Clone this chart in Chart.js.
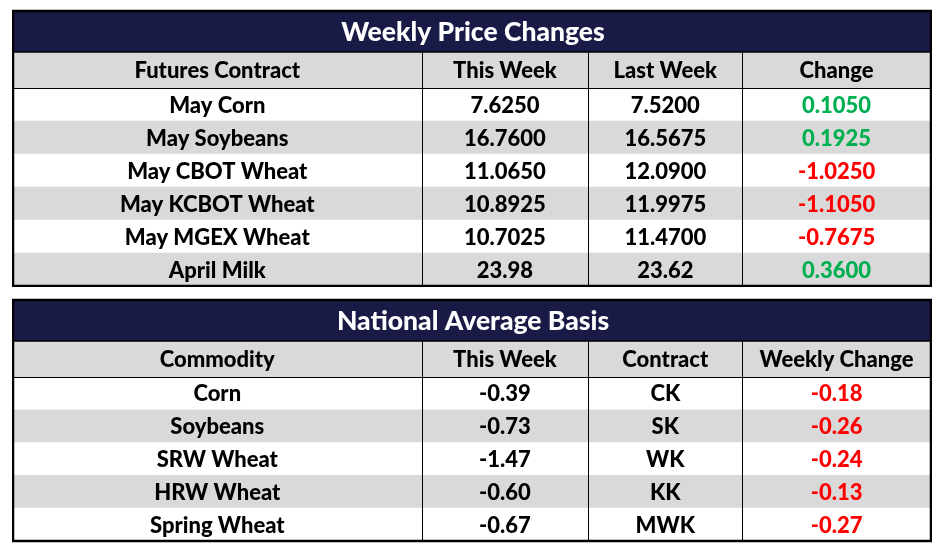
<!DOCTYPE html>
<html>
<head>
<meta charset="utf-8">
<script src="https://cdn.jsdelivr.net/npm/chart.js@4.4.1/dist/chart.umd.min.js"></script>
<style>
  html, body { margin: 0; padding: 0; background: #fff; }
  body { width: 946px; height: 552px; position: relative; overflow: hidden; }
  .box { position: absolute; left: 12px; width: 920px; }
  #top { top: 9px; height: 278px; }
  #bottom { top: 298px; height: 245px; }
</style>
</head>
<body>
<div class="box" id="top"><canvas id="futuresTable"></canvas></div>
<div class="box" id="bottom"><canvas id="basisTable"></canvas></div>
<script>
// weekly price changes
const futuresHeaders = ["Futures Contract", "This Week", "Last Week", "Change"];
const futuresContracts = ["May Corn", "May Soybeans", "May CBOT Wheat", "May KCBOT Wheat", "May MGEX Wheat", "April Milk"];
const futuresThisWeek = ["7.6250", "16.7600", "11.0650", "10.8925", "10.7025", "23.98"];
const futuresLastWeek = ["7.5200", "16.5675", "12.0900", "11.9975", "11.4700", "23.62"];
const futuresChange = ["0.1050", "0.1925", "-1.0250", "-1.1050", "-0.7675", "0.3600"];

// national average basis
const basisHeaders = ["Commodity", "This Week", "Contract", "Weekly Change"];
const basisCommodities = ["Corn", "Soybeans", "SRW Wheat", "HRW Wheat", "Spring Wheat"];
const basisThisWeek = ["-0.39", "-0.73", "-1.47", "-0.60", "-0.67"];
const basisContracts = ["CK", "SK", "WK", "KK", "MWK"];
const basisChange = ["-0.18", "-0.26", "-0.24", "-0.13", "-0.27"];

// layout
const colEdges = [0, 409, 576, 730, 919];
const NAVY = "#191a46";
const GRAY = "#d9d9d9";
const GREEN = "#00b050";
const RED = "#ff0000";
const FONT = "Lato";
const WEIGHT = "900";
const TITLE_H = 41;
const HEAD_H = 36;

function drawText(ctx, text, x, y, size, color) {
    ctx.save();
    ctx.font = WEIGHT + " " + size + "px " + FONT;
    ctx.fillStyle = color;
    ctx.textAlign = "center";
    ctx.textBaseline = "middle";
    ctx.fillText(text, x, y);
    ctx.restore();
}

function changeColor(v) {
    return parseFloat(v) < 0 ? RED : GREEN;
}

const tablePlugin = {
    id: "tablePlugin",
    afterDatasetsDraw(chart) {
        const ctx = chart.ctx;
        const area = chart.chartArea;
        const x = chart.scales.x;
        const y = chart.scales.y;
        const t = chart.options.plugins.tablePlugin;
        const headTop = area.top - HEAD_H;
        const titleTop = headTop - TITLE_H;

        // title + header bands
        ctx.fillStyle = NAVY;
        ctx.fillRect(area.left, titleTop, area.right - area.left, TITLE_H);
        ctx.fillStyle = GRAY;
        ctx.fillRect(area.left, headTop, area.right - area.left, HEAD_H);

        // lines
        ctx.strokeStyle = "#000";
        ctx.lineWidth = 1.5;
        ctx.beginPath();
        ctx.moveTo(area.left, headTop);
        ctx.lineTo(area.right, headTop);
        ctx.stroke();
        ctx.lineWidth = 1;
        ctx.beginPath();
        ctx.moveTo(area.left, area.top + 0.5);
        ctx.lineTo(area.right, area.top + 0.5);
        for (let c = 1; c < colEdges.length - 1; c++) {
            const px = Math.round(x.getPixelForValue(colEdges[c])) + 0.5;
            ctx.moveTo(px, headTop);
            ctx.lineTo(px, area.bottom);
        }
        ctx.stroke();
        ctx.lineWidth = 2.5;
        ctx.strokeRect(area.left, titleTop, area.right - area.left, area.bottom - titleTop);

        // texts
        drawText(ctx, t.title, (area.left + area.right) / 2 + 1, titleTop + TITLE_H / 2 + 1, 26.5, "#fff");
        const mid = c => x.getPixelForValue((colEdges[c] + colEdges[c + 1]) / 2);
        t.headers.forEach((h, c) => drawText(ctx, h, mid(c), headTop + HEAD_H / 2 + 1, 22, "#000"));
        t.columns.forEach((col, c) => {
            col.forEach((v, i) => {
                const color = c === t.colorCol ? changeColor(v) : "#000";
                drawText(ctx, v, mid(c), y.getPixelForValue(i) + 1, 22, color);
            });
        });
    }
};

function makeTable(canvasId, title, headers, columns, colorCol, padTop, padBottom) {
    const rows = columns[0];
    return new Chart(document.getElementById(canvasId), {
        type: "bar",
        data: {
            labels: rows,
            datasets: [{
                data: rows.map(() => [colEdges[0], colEdges[colEdges.length - 1]]),
                backgroundColor: rows.map((r, i) => i % 2 ? GRAY : "#fff"),
                borderWidth: 0,
                categoryPercentage: 1,
                barPercentage: 1
            }]
        },
        options: {
            indexAxis: "y",
            responsive: true,
            maintainAspectRatio: false,
            animation: false,
            layout: { padding: { top: padTop, bottom: padBottom, left: 1, right: 1 } },
            scales: {
                x: { display: false, min: colEdges[0], max: colEdges[colEdges.length - 1] },
                y: { display: false }
            },
            plugins: {
                legend: { display: false },
                tooltip: { enabled: false },
                tablePlugin: { title: title, headers: headers, columns: columns, colorCol: colorCol }
            }
        },
        plugins: [tablePlugin]
    });
}

makeTable("futuresTable", "Weekly Price Changes", futuresHeaders,
    [futuresContracts, futuresThisWeek, futuresLastWeek, futuresChange], 3, 79, 1);

makeTable("basisTable", "National Average Basis", basisHeaders,
    [basisCommodities, basisThisWeek, basisContracts, basisChange], 3, 79, 2);
</script>
</body>
</html>
